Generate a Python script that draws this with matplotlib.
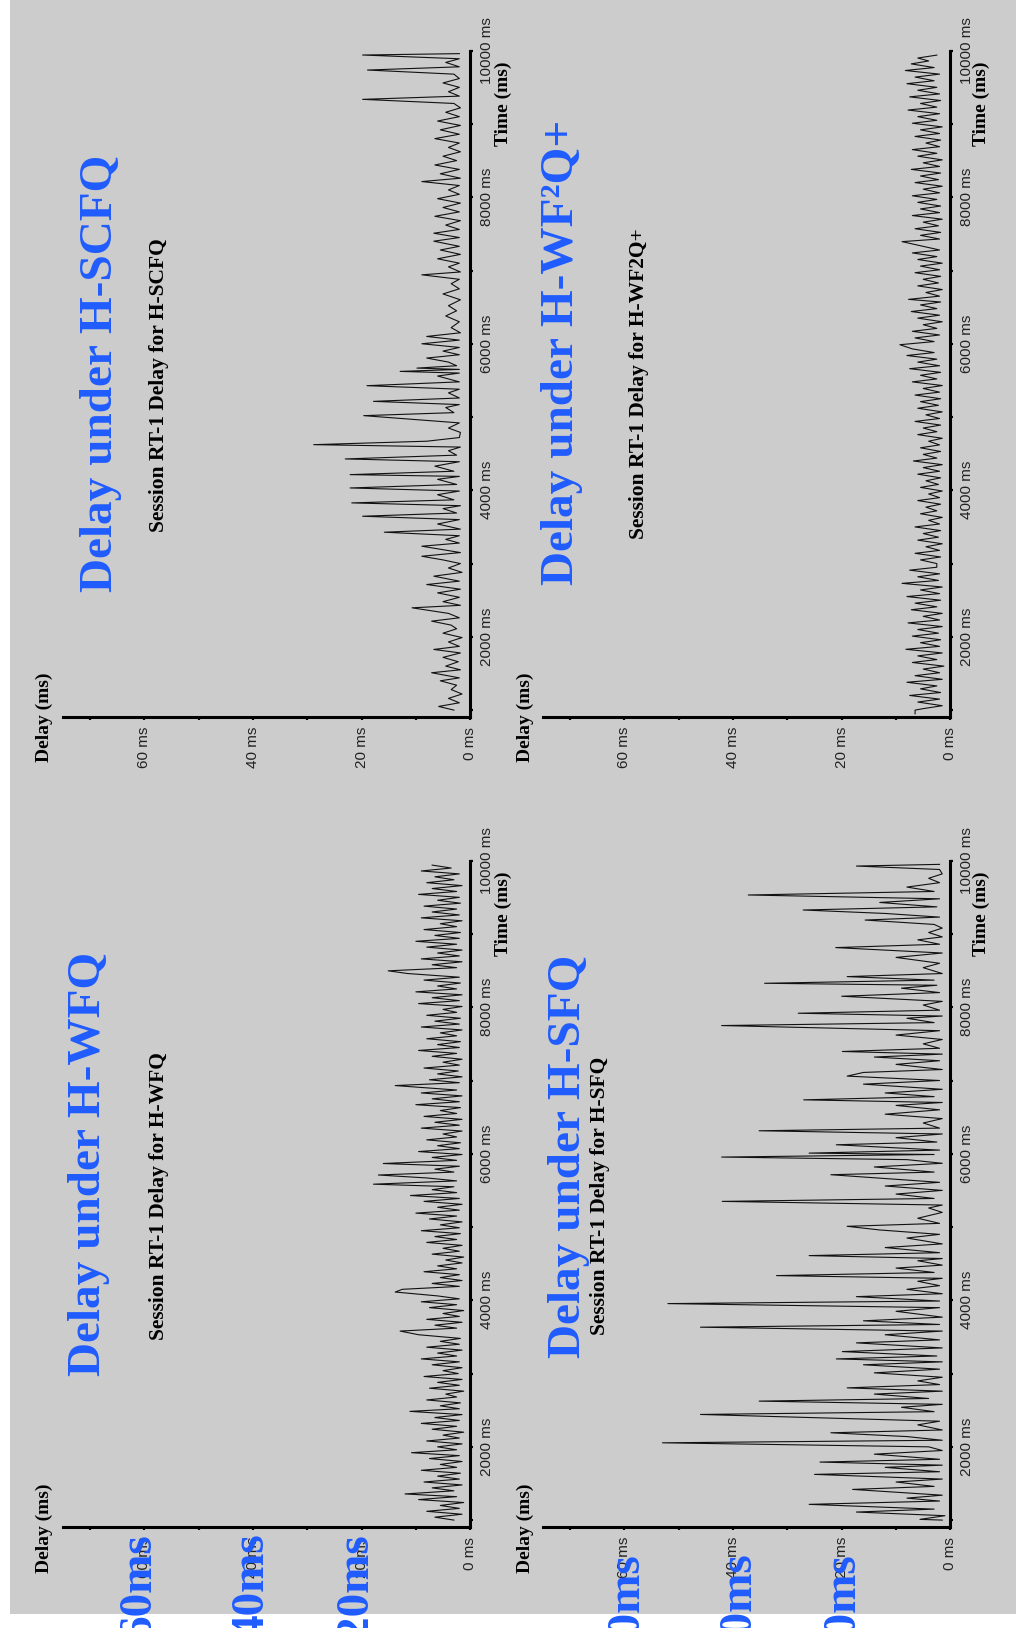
import matplotlib
matplotlib.use("Agg")
import matplotlib.pyplot as plt
from matplotlib.patches import Rectangle
from matplotlib.ticker import FixedLocator, FixedFormatter

W, H = 1016, 1637

# (time ms, delay ms) samples for session RT-1 under each scheduler
scfq_pts = [
    (1000, 3.0), (1050, 5.8), (1100, 2.0), (1160, 4.0), (1220, 1.5), (1280, 3.5), (1340, 2.5), (1400, 5.5),
    (1440, 2.0), (1510, 7.1), (1550, 1.8), (1600, 4.5), (1660, 2.2), (1720, 5.0), (1780, 1.8), (1828, 6.7),
    (1870, 2.0), (1930, 4.0), (1990, 1.5), (2050, 5.0), (2110, 2.5), (2160, 3.5), (2214, 7.1), (2260, 2.0),
    (2320, 4.0), (2396, 10.7), (2430, 1.8), (2480, 5.0), (2540, 2.0), (2600, 6.0), (2650, 1.8), (2714, 8.0),
    (2760, 2.0), (2828, 6.7), (2880, 1.5), (2940, 4.0), (3000, 1.8), (3050, 5.0), (3100, 8.9), (3150, 1.8),
    (3237, 8.9), (3280, 2.0), (3330, 4.5), (3380, 2.0), (3428, 15.8), (3470, 1.8), (3540, 6.0), (3600, 2.0),
    (3646, 19.8), (3690, 2.5), (3750, 5.0), (3790, 1.8), (3828, 21.8), (3870, 3.0), (3940, 6.0), (3990, 2.0),
    (4032, 22.1), (4080, 2.5), (4150, 6.0), (4190, 2.0), (4214, 22.1), (4260, 3.0), (4330, 6.5), (4390, 2.0),
    (4428, 23.0), (4480, 2.5), (4540, 4.0), (4590, 1.8), (4623, 28.8), (4670, 8.0), (4720, 2.0), (4790, 1.8),
    (4850, 4.0), (4920, 2.0), (5019, 19.6), (5060, 3.0), (5130, 4.5), (5170, 2.0), (5214, 17.8), (5260, 2.0),
    (5330, 4.0), (5380, 2.0), (5428, 19.0), (5480, 2.0), (5560, 6.0), (5600, 2.0), (5623, 12.9), (5650, 2.0),
    (5668, 9.8), (5700, 2.5), (5750, 4.0), (5805, 8.0), (5850, 2.0), (5900, 5.0), (5950, 2.0), (6000, 8.9),
    (6050, 2.0), (6100, 8.0), (6150, 1.8), (6220, 3.5), (6300, 2.0), (6380, 4.5), (6450, 2.5), (6520, 4.0),
    (6600, 1.8), (6680, 5.0), (6750, 2.0), (6820, 3.5), (6880, 2.0), (6941, 8.9), (6980, 1.8), (7050, 4.0),
    (7100, 2.0), (7160, 6.0), (7220, 1.8), (7280, 5.5), (7330, 2.0), (7400, 6.7), (7450, 2.0), (7509, 6.7),
    (7560, 2.0), (7620, 4.5), (7680, 1.8), (7740, 6.5), (7800, 2.0), (7860, 5.0), (7920, 1.8), (7980, 6.0),
    (8040, 2.0), (8100, 4.0), (8160, 2.0), (8214, 8.9), (8260, 1.8), (8320, 5.5), (8380, 2.0), (8440, 6.5),
    (8500, 2.5), (8560, 5.0), (8620, 1.8), (8680, 4.0), (8740, 2.0), (8800, 6.5), (8860, 2.0), (8920, 5.5),
    (8980, 1.8), (9040, 6.0), (9100, 2.0), (9160, 4.5), (9220, 1.8), (9280, 3.0), (9336, 19.8), (9380, 2.0),
    (9440, 4.0), (9500, 2.0), (9560, 5.0), (9620, 2.0), (9680, 3.0), (9736, 18.9), (9780, 2.0), (9840, 4.5),
    (9890, 2.0), (9941, 19.8), (9960, 2.0),
]

wf2q_pts = [
    (950, 6.5), (1000, 6.5), (1020, 5.0), (1060, 1.5), (1110, 6.0), (1150, 2.0), (1200, 7.5), (1240, 1.8),
    (1290, 5.5), (1330, 2.5), (1380, 8.0), (1420, 1.5), (1470, 6.5), (1510, 2.0), (1560, 5.0), (1600, 1.2),
    (1650, 7.0), (1690, 2.5), (1740, 6.0), (1780, 1.5), (1830, 8.2), (1870, 2.0), (1920, 5.5), (1960, 1.8),
    (2010, 7.0), (2050, 2.2), (2100, 6.0), (2140, 1.5), (2190, 7.8), (2230, 2.0), (2280, 5.0), (2320, 1.5),
    (2370, 7.2), (2410, 2.5), (2460, 6.5), (2500, 1.8), (2550, 8.0), (2590, 2.0), (2640, 5.5), (2680, 1.5),
    (2730, 8.9), (2770, 2.2), (2820, 6.0), (2860, 2.0), (2910, 7.5), (2950, 2.5), (3000, 2.5), (3050, 5.5),
    (3090, 1.8), (3140, 6.5), (3180, 2.0), (3230, 4.5), (3270, 1.5), (3320, 6.0), (3360, 2.2), (3410, 5.0),
    (3450, 1.8), (3500, 6.5), (3540, 2.0), (3590, 4.0), (3630, 1.5), (3680, 5.5), (3720, 2.5), (3770, 4.5),
    (3810, 1.8), (3860, 6.0), (3900, 2.0), (3950, 4.0), (3990, 1.5), (4040, 5.5), (4080, 2.2), (4130, 4.5),
    (4170, 1.8), (4220, 6.0), (4260, 2.0), (4310, 5.0), (4350, 1.5), (4400, 6.8), (4440, 2.5), (4490, 5.0),
    (4530, 1.8), (4580, 5.5), (4620, 2.0), (4670, 4.0), (4710, 1.5), (4760, 6.0), (4800, 2.5), (4850, 5.0),
    (4890, 1.8), (4940, 6.5), (4980, 2.0), (5030, 4.5), (5070, 1.5), (5120, 6.0), (5160, 2.2), (5210, 5.5),
    (5250, 1.8), (5300, 6.5), (5340, 2.0), (5390, 5.0), (5430, 1.5), (5480, 7.0), (5520, 2.5), (5570, 5.5),
    (5610, 1.8), (5660, 7.5), (5700, 2.0), (5750, 6.0), (5790, 2.5), (5840, 8.0), (5880, 3.0), (5930, 7.0),
    (5987, 9.3), (6030, 3.0), (6080, 6.5), (6120, 2.0), (6170, 7.0), (6210, 2.5), (6260, 5.0), (6300, 1.5),
    (6350, 6.0), (6390, 2.0), (6440, 7.2), (6480, 2.5), (6530, 5.5), (6570, 1.8), (6606, 7.7), (6650, 2.0),
    (6700, 4.5), (6740, 1.5), (6790, 6.0), (6830, 2.2), (6880, 5.0), (6920, 1.8), (6970, 6.5), (7010, 2.0),
    (7060, 5.5), (7100, 1.5), (7150, 6.0), (7190, 2.5), (7240, 7.0), (7280, 2.0), (7330, 5.0), (7394, 8.9),
    (7430, 2.0), (7480, 5.5), (7520, 1.8), (7570, 6.5), (7610, 2.2), (7660, 5.0), (7700, 1.5), (7750, 7.0),
    (7790, 2.0), (7840, 5.5), (7880, 1.8), (7930, 6.0), (7970, 2.5), (8020, 7.0), (8060, 2.0), (8110, 5.0),
    (8150, 1.5), (8200, 6.5), (8240, 2.2), (8290, 5.5), (8330, 1.8), (8380, 7.2), (8420, 2.0), (8470, 5.0),
    (8510, 1.5), (8560, 6.0), (8600, 2.5), (8650, 7.0), (8690, 2.0), (8740, 4.5), (8780, 1.8), (8830, 6.5),
    (8870, 2.0), (8920, 5.5), (8960, 1.5), (9010, 7.0), (9050, 2.5), (9100, 6.0), (9140, 2.0), (9190, 7.8),
    (9230, 2.5), (9280, 5.5), (9320, 1.8), (9370, 7.5), (9410, 2.0), (9460, 6.0), (9500, 2.5), (9550, 8.0),
    (9590, 3.0), (9640, 6.5), (9680, 2.0), (9730, 8.3), (9770, 3.0), (9820, 7.2), (9860, 4.0), (9900, 6.0),
    (9940, 2.5),
]

wfq_pts = [
    (1000, 3.0), (1040, 6.5), (1080, 1.5), (1120, 8.0), (1160, 2.0), (1200, 5.5), (1240, 1.2), (1280, 9.5),
    (1320, 2.5), (1357, 12.0), (1400, 3.0), (1440, 7.0), (1480, 1.5), (1520, 8.5), (1560, 2.0), (1600, 6.0),
    (1640, 1.8), (1680, 9.0), (1720, 2.5), (1760, 5.5), (1800, 1.5), (1840, 7.5), (1880, 2.0), (1920, 10.8),
    (1960, 2.5), (2000, 6.0), (2040, 1.5), (2080, 8.0), (2120, 2.0), (2160, 5.0), (2200, 1.2), (2240, 7.0),
    (2280, 2.5), (2320, 9.0), (2360, 2.0), (2400, 6.5), (2440, 1.5), (2484, 11.1), (2520, 2.0), (2560, 5.5),
    (2600, 1.8), (2640, 8.0), (2680, 2.5), (2720, 4.5), (2760, 1.2), (2800, 7.5), (2840, 2.0), (2880, 6.0),
    (2920, 1.5), (2960, 8.5), (3000, 2.2), (3040, 5.0), (3080, 1.5), (3120, 7.0), (3160, 2.0), (3200, 9.0),
    (3240, 2.5), (3280, 6.0), (3320, 1.5), (3360, 8.0), (3400, 2.0), (3440, 5.5), (3480, 1.8), (3530, 9.5),
    (3580, 12.9), (3620, 2.5), (3660, 6.5), (3700, 1.5), (3740, 8.0), (3780, 2.0), (3820, 5.0), (3860, 1.2),
    (3900, 7.5), (3940, 2.5), (3980, 9.0), (4020, 2.0), (4060, 6.0), (4113, 13.8), (4150, 12.5), (4190, 2.0),
    (4230, 7.0), (4270, 1.5), (4310, 5.5), (4350, 2.0), (4390, 8.5), (4430, 2.5), (4470, 6.0), (4510, 1.5),
    (4550, 4.5), (4590, 1.2), (4630, 7.0), (4670, 2.0), (4710, 5.0), (4750, 1.5), (4790, 8.0), (4830, 2.5),
    (4870, 6.5), (4910, 1.8), (4950, 9.0), (4990, 2.0), (5030, 5.5), (5070, 1.5), (5110, 7.5), (5150, 2.5),
    (5190, 10.0), (5230, 2.0), (5270, 6.0), (5310, 1.5), (5350, 8.5), (5390, 2.0), (5430, 11.0), (5470, 2.5),
    (5510, 7.0), (5550, 3.0), (5585, 17.8), (5630, 2.5), (5670, 8.0), (5710, 16.9), (5750, 3.0), (5790, 6.5),
    (5830, 2.0), (5867, 16.0), (5910, 2.5), (5950, 7.0), (5990, 1.5), (6030, 9.5), (6070, 2.0), (6110, 6.0),
    (6150, 1.8), (6190, 8.0), (6230, 2.5), (6270, 5.0), (6310, 1.5), (6350, 9.0), (6390, 2.0), (6430, 6.5),
    (6470, 1.5), (6510, 8.5), (6550, 2.5), (6590, 5.5), (6630, 1.8), (6670, 10.0), (6710, 2.0), (6750, 7.0),
    (6790, 1.5), (6830, 9.0), (6870, 2.5), (6931, 13.8), (6970, 2.0), (7010, 7.5), (7050, 1.5), (7090, 6.0),
    (7130, 2.2), (7170, 8.5), (7210, 2.0), (7250, 5.0), (7290, 1.5), (7330, 7.0), (7370, 2.5), (7410, 9.5),
    (7450, 2.0), (7490, 6.0), (7530, 1.8), (7570, 8.0), (7610, 2.5), (7650, 5.5), (7690, 1.5), (7730, 9.0),
    (7770, 2.0), (7810, 6.5), (7850, 1.8), (7890, 8.0), (7930, 2.5), (7970, 5.0), (8010, 1.5), (8050, 9.5),
    (8090, 2.0), (8130, 7.0), (8170, 1.5), (8210, 10.0), (8250, 2.5), (8290, 6.0), (8330, 1.8), (8370, 8.5),
    (8410, 2.0), (8460, 11.5), (8497, 15.1), (8540, 2.5), (8580, 7.0), (8620, 1.5), (8660, 9.0), (8700, 2.0),
    (8740, 6.0), (8780, 1.5), (8820, 8.0), (8860, 2.5), (8900, 10.0), (8940, 2.0), (8980, 6.5), (9020, 1.8),
    (9060, 8.5), (9100, 2.5), (9140, 5.5), (9180, 1.5), (9220, 9.0), (9260, 2.0), (9300, 7.0), (9340, 2.5),
    (9380, 8.5), (9420, 1.8), (9460, 6.0), (9500, 2.0), (9540, 9.5), (9580, 2.5), (9620, 7.0), (9660, 1.5),
    (9700, 8.0), (9740, 3.0), (9780, 6.5), (9820, 2.0), (9860, 9.0), (9900, 3.5), (9940, 7.0),
]

sfq_pts = [
    (1000, 1.5), (1010, 5.6), (1060, 1.0), (1110, 17.3), (1150, 3.0), (1215, 26.0), (1260, 2.0), (1300, 8.0),
    (1340, 1.5), (1419, 18.0), (1460, 3.0), (1520, 10.0), (1560, 1.5), (1624, 25.0), (1660, 2.0), (1720, 12.0),
    (1750, 1.5), (1792, 24.0), (1830, 2.0), (1900, 14.0), (1950, 1.5), (2000, 4.0), (2055, 53.0), (2090, 1.5),
    (2140, 8.0), (2192, 22.0), (2230, 1.5), (2300, 6.0), (2350, 2.0), (2442, 46.0), (2480, 3.0), (2540, 9.0),
    (2580, 1.5), (2624, 35.2), (2660, 4.0), (2720, 14.0), (2760, 1.5), (2805, 19.0), (2850, 2.0), (2900, 6.0),
    (2950, 1.5), (3010, 14.0), (3060, 2.0), (3120, 16.0), (3160, 1.5), (3200, 21.0), (3240, 2.5), (3300, 19.9),
    (3350, 1.5), (3419, 17.3), (3460, 2.0), (3530, 12.0), (3580, 1.5), (3633, 46.0), (3670, 2.0), (3720, 16.0),
    (3770, 1.5), (3850, 10.0), (3900, 2.0), (3955, 52.0), (3990, 2.0), (4050, 17.3), (4090, 1.5), (4150, 8.0),
    (4200, 2.0), (4260, 6.0), (4300, 1.5), (4337, 32.0), (4380, 3.0), (4440, 10.0), (4480, 1.5), (4540, 6.0),
    (4570, 1.5), (4610, 26.0), (4650, 2.0), (4720, 12.0), (4770, 1.5), (4850, 8.0), (4900, 2.0), (4960, 13.0),
    (5010, 19.0), (5050, 2.0), (5120, 6.0), (5200, 1.5), (5260, 4.0), (5300, 1.5), (5350, 42.0), (5390, 3.0),
    (5450, 10.0), (5500, 1.5), (5560, 12.0), (5610, 2.0), (5714, 22.0), (5750, 3.0), (5820, 14.0), (5870, 1.5),
    (5920, 8.0), (5955, 42.1), (5990, 3.0), (6009, 26.0), (6050, 2.0), (6123, 21.0), (6160, 2.5), (6220, 10.0),
    (6270, 1.5), (6314, 35.2), (6350, 2.0), (6420, 5.0), (6480, 1.5), (6540, 12.0), (6600, 2.0), (6660, 10.0),
    (6700, 1.5), (6736, 27.0), (6780, 3.0), (6830, 12.0), (6880, 1.5), (6950, 16.0), (7000, 2.0), (7060, 19.0),
    (7110, 16.0), (7150, 1.5), (7220, 10.0), (7270, 2.0), (7320, 14.0), (7360, 1.5), (7396, 19.9), (7440, 2.0),
    (7500, 5.0), (7560, 1.5), (7620, 10.0), (7680, 2.0), (7750, 42.1), (7790, 3.0), (7850, 8.0), (7880, 1.5),
    (7918, 28.0), (7960, 2.0), (8030, 5.0), (8080, 1.5), (8150, 20.0), (8200, 2.0), (8260, 9.0), (8300, 2.5),
    (8327, 34.2), (8370, 3.0), (8418, 19.0), (8460, 1.5), (8540, 5.0), (8600, 2.0), (8680, 10.0), (8740, 1.5),
    (8814, 21.1), (8860, 2.0), (8920, 6.0), (8960, 1.5), (9020, 4.0), (9080, 1.5), (9130, 3.0), (9190, 15.7),
    (9230, 2.0), (9280, 12.0), (9327, 27.1), (9370, 2.5), (9430, 13.0), (9480, 2.0), (9532, 37.2), (9580, 3.0),
    (9640, 8.0), (9700, 2.0), (9760, 4.0), (9820, 1.5), (9880, 2.0), (9927, 17.3), (9950, 2.0),
]

delay_major = [0, 20, 40, 60]
delay_minor = [10, 30, 50, 70]
delay_labels = ["0 ms", "20 ms", "40 ms", "60 ms"]
time_major = [2000, 4000, 6000, 8000, 10000]
time_minor = [1000, 3000, 5000, 7000, 9000]
time_labels = ["2000 ms", "4000 ms", "6000 ms", "8000 ms", "10000 ms"]

overlay_labels = ["60ms", "40ms", "20ms"]

BLUE = "#1f5cff"
GRAY = "#cccccc"
SERIF = "Liberation Serif"
SANS = "Liberation Sans"

PW, PH = 407.5, 666.0   # panel size in pixels


def draw_panel(fig, left, top, pts):
    ax = fig.add_axes([left / W, 1 - (top + PH) / H, PW / W, PH / H])
    ax.patch.set_visible(False)
    t = [p[0] for p in pts]
    d = [p[1] for p in pts]
    ax.plot(d, t, color="#111111", lw=0.8)
    ax.set_xlim(75, 0)
    ax.set_ylim(910, 10000)

    ax.spines["left"].set_visible(False)
    ax.spines["top"].set_visible(False)
    for s in ("right", "bottom"):
        ax.spines[s].set_linewidth(2.2)
        ax.spines[s].set_color("black")

    ax.xaxis.set_major_locator(FixedLocator(delay_major))
    ax.xaxis.set_major_formatter(FixedFormatter(delay_labels))
    ax.xaxis.set_minor_locator(FixedLocator(delay_minor))
    ax.yaxis.tick_right()
    ax.yaxis.set_major_locator(FixedLocator(time_major))
    ax.yaxis.set_major_formatter(FixedFormatter(time_labels))
    ax.yaxis.set_minor_locator(FixedLocator(time_minor))

    ax.tick_params(which="both", direction="out", length=2.5, width=1.6, color="black")
    ax.tick_params(axis="x", which="major", pad=5, labelrotation=90)
    ax.tick_params(axis="y", which="major", pad=4.5, labelrotation=90)
    for lbl in ax.get_xticklabels() + ax.get_yticklabels():
        lbl.set_fontfamily(SANS)
        lbl.set_fontsize(11)
        lbl.set_color("#222222")
    for lbl in ax.get_yticklabels():
        lbl.set_va("center")
    return ax


fig = plt.figure(figsize=(W / 100, H / 100), dpi=100, facecolor="white")
fig.patches.append(Rectangle((10 / W, (H - 1614) / H), 1 - 10 / W, 1614 / H,
                             transform=fig.transFigure, facecolor=GRAY,
                             edgecolor="none", zorder=-10))

draw_panel(fig, 62.7, 50.7, scfq_pts)
draw_panel(fig, 542.9, 50.7, wf2q_pts)
draw_panel(fig, 62.7, 860.7, wfq_pts)
draw_panel(fig, 542.9, 860.7, sfq_pts)

# free text laid out in pixel coordinates, clipped a little above the page bottom
CLIP_Y = 1628
ov = fig.add_axes([0, (H - CLIP_Y) / H, 1, CLIP_Y / H], zorder=5)
ov.set_xlim(0, W)
ov.set_ylim(CLIP_Y, 0)
ov.axis("off")

titles = [
    (101, 373, "Delay under H-SCFQ"),
    (562, 352, "Delay under H-WF\u00b2Q+"),
    (89, 1164, "Delay under H-WFQ"),
    (569, 1156, "Delay under H-SFQ"),
]
for x, y, s in titles:
    ov.text(x, y, s, rotation=90, ha="center", va="center", color=BLUE,
            fontfamily=SERIF, fontweight="bold", fontsize=34)

subtitles = [
    (159, 385, "Session RT-1 Delay for H-SCFQ"),
    (639, 384, "Session RT-1 Delay for H-WF2Q+"),
    (159, 1196, "Session RT-1 Delay for H-WFQ"),
    (600, 1196, "Session RT-1 Delay for H-SFQ"),
]
for x, y, s in subtitles:
    ov.text(x, y, s, rotation=90, ha="center", va="center", color="black",
            fontfamily=SERIF, fontweight="bold", fontsize=15.5)

for x in (44, 525):
    for y in (717, 1528):
        ov.text(x, y, "Delay (ms)", rotation=90, ha="center", va="center",
                fontfamily=SERIF, fontweight="bold", fontsize=14)
for x in (503, 981):
    for y in (104, 914):
        ov.text(x, y, "Time (ms)", rotation=90, ha="center", va="center",
                fontfamily=SERIF, fontweight="bold", fontsize=14)

for xs, top in (((139, 252, 356), 1533), ((627, 740, 843), 1553)):
    for x, s in zip(xs, overlay_labels):
        ov.text(x, top, s, rotation=90, ha="center", va="top", color=BLUE,
                fontfamily=SERIF, fontweight="bold", fontsize=34, clip_on=True)

fig.savefig("out.png", dpi=100, facecolor="white")
